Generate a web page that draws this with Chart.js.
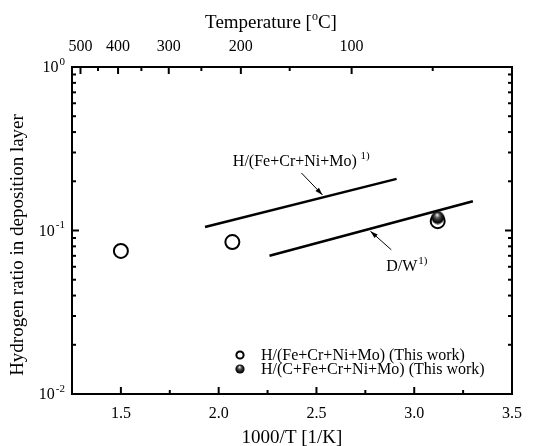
<!DOCTYPE html>
<html>
<head>
<meta charset="utf-8">
<script src="https://cdn.jsdelivr.net/npm/chart.js@4.4.0/dist/chart.umd.min.js"></script>
<style>
  html, body { margin: 0; padding: 0; background: #fff; }
  #wrap { width: 534px; height: 446px; }
</style>
</head>
<body>
<div id="wrap"><canvas id="myChart" width="534" height="446"></canvas></div>
<script>
// bottom axis: 1000/T
const xMajor = [1.5, 2.0, 2.5, 3.0, 3.5];
const xMinor = [1.75, 2.25, 2.75, 3.25];
// top axis: temperature in C
const tempMajor = [500, 400, 300, 200, 100];
const tempMinor = [450, 350, 250, 150, 50];
// y decades
const yDecades = [0.01, 0.1, 1];
const yExp = ['-2', '-1', '0'];

// H/(Fe+Cr+Ni+Mo) (This work)
const openX = [1.50, 2.07, 3.12];
const openY = [0.075, 0.085, 0.114];
// H/(C+Fe+Cr+Ni+Mo) (This work)
const ballX = [3.12];
const ballY = [0.120];
// literature lines 1)
const hLineX = [1.93, 2.91];
const hLineY = [0.105, 0.207];
const dwLineX = [2.26, 3.30];
const dwLineY = [0.070, 0.151];

const FONT = '"Liberation Serif", "Times New Roman", serif';

function pts(xs, ys) { return xs.map((v, i) => ({x: v, y: ys[i]})); }
function toInv(tc) { return 1000 / (tc + 273.15); }

function drawBall(c, cx, cy, r) {
  const g = c.createRadialGradient(cx - r * 0.1, cy - r * 0.45, r * 0.05, cx, cy, r);
  g.addColorStop(0, '#f4f4f4');
  g.addColorStop(0.35, '#555');
  g.addColorStop(0.75, '#111');
  g.addColorStop(1, '#000');
  c.beginPath();
  c.arc(cx, cy, r, 0, Math.PI * 2);
  c.fillStyle = g;
  c.fill();
}

const ballImg = document.createElement('canvas');
ballImg.width = 14; ballImg.height = 14;
drawBall(ballImg.getContext('2d'), 7, 7, 6.5);

function supText(ctx, base, sup, x, y, size, align) {
  ctx.font = size + 'px ' + FONT;
  const wb = ctx.measureText(base).width;
  ctx.font = Math.round(size * 0.68) + 'px ' + FONT;
  const ws = ctx.measureText(sup).width;
  let x0 = x;
  if (align === 'right') x0 = x - wb - ws;
  if (align === 'center') x0 = x - (wb + ws) / 2;
  ctx.textAlign = 'left';
  ctx.font = size + 'px ' + FONT;
  ctx.fillText(base, x0, y);
  ctx.font = Math.round(size * 0.68) + 'px ' + FONT;
  ctx.fillText(sup, x0 + wb + 1, y - size * 0.38);
}

function arrow(ctx, x1, y1, x2, y2) {
  ctx.lineWidth = 1;
  ctx.beginPath(); ctx.moveTo(x1, y1); ctx.lineTo(x2, y2); ctx.stroke();
  const ang = Math.atan2(y2 - y1, x2 - x1), L = 8, w = 0.3;
  ctx.beginPath();
  ctx.moveTo(x2, y2);
  ctx.lineTo(x2 - L * Math.cos(ang - w), y2 - L * Math.sin(ang - w));
  ctx.lineTo(x2 - L * Math.cos(ang + w), y2 - L * Math.sin(ang + w));
  ctx.closePath(); ctx.fill();
}

const deco = {
  id: 'deco',
  afterDraw(chart) {
    const {ctx, chartArea: a, scales: {x, y}} = chart;
    ctx.save();
    ctx.strokeStyle = '#000'; ctx.fillStyle = '#000';
    ctx.lineWidth = 2;
    ctx.strokeRect(a.left, a.top, a.right - a.left, a.bottom - a.top);

    const tk = (px, py, dx, dy) => { ctx.beginPath(); ctx.moveTo(px, py); ctx.lineTo(px + dx, py + dy); ctx.stroke(); };
    // bottom
    xMajor.forEach(v => tk(x.getPixelForValue(v), a.bottom, 0, -7));
    xMinor.forEach(v => tk(x.getPixelForValue(v), a.bottom, 0, -4));
    // top (temperature)
    tempMajor.forEach(t => tk(x.getPixelForValue(toInv(t)), a.top, 0, 7));
    tempMinor.forEach(t => tk(x.getPixelForValue(toInv(t)), a.top, 0, 4));
    // left / right log ticks
    yDecades.forEach(d => {
      const p = y.getPixelForValue(d);
      tk(a.left, p, 7, 0); tk(a.right, p, -7, 0);
      if (d < 1) for (let m = 2; m <= 9; m++) {
        const q = y.getPixelForValue(d * m);
        tk(a.left, q, 4, 0); tk(a.right, q, -4, 0);
      }
    });

    // tick labels
    ctx.textBaseline = 'middle';
    ctx.font = '16px ' + FONT; ctx.textAlign = 'center';
    xMajor.forEach(v => ctx.fillText(v.toFixed(1), x.getPixelForValue(v), a.bottom + 20));
    tempMajor.forEach(t => ctx.fillText(String(t), x.getPixelForValue(toInv(t)), a.top - 20));
    yDecades.forEach((d, i) => supText(ctx, '10', yExp[i], a.left - 8, y.getPixelForValue(d) + 1, 16, 'right'));

    // axis titles
    ctx.font = '19px ' + FONT; ctx.textAlign = 'center';
    ctx.fillText('1000/T [1/K]', (a.left + a.right) / 2, a.bottom + 44);
    ctx.font = '19px ' + FONT;
    const w1 = ctx.measureText('Temperature [').width;
    const w3 = ctx.measureText('C]').width;
    ctx.font = '12px ' + FONT;
    const w2 = ctx.measureText('o').width;
    let tx = 271 - (w1 + w2 + w3) / 2;
    ctx.textAlign = 'left';
    ctx.font = '19px ' + FONT; ctx.fillText('Temperature [', tx, 23);
    ctx.font = '12px ' + FONT; ctx.fillText('o', tx + w1, 17);
    ctx.font = '19px ' + FONT; ctx.fillText('C]', tx + w1 + w2, 23);

    ctx.save();
    ctx.translate(18, 245); ctx.rotate(-Math.PI / 2);
    ctx.textAlign = 'center'; ctx.font = '19px ' + FONT;
    ctx.fillText('Hydrogen ratio in deposition layer', 0, 0);
    ctx.restore();

    // annotations
    supText(ctx, 'H/(Fe+Cr+Ni+Mo)', ' 1)', x.getPixelForValue(2.42), y.getPixelForValue(0.263), 16, 'center');
    arrow(ctx, x.getPixelForValue(2.423), y.getPixelForValue(0.225), x.getPixelForValue(2.531), y.getPixelForValue(0.165));
    supText(ctx, 'D/W', '1)', x.getPixelForValue(2.857), y.getPixelForValue(0.060), 16, 'left');
    arrow(ctx, x.getPixelForValue(2.883), y.getPixelForValue(0.0762), x.getPixelForValue(2.776), y.getPixelForValue(0.099));

    // legend
    ctx.font = '16px ' + FONT; ctx.textAlign = 'left';
    ctx.lineWidth = 2;
    ctx.beginPath(); ctx.arc(240, 355, 3.6, 0, Math.PI * 2); ctx.fillStyle = '#fff'; ctx.fill(); ctx.stroke();
    ctx.fillStyle = '#000';
    ctx.fillText('H/(Fe+Cr+Ni+Mo) (This work)', 261, 356);
    drawBall(ctx, 240, 369, 4.6);
    ctx.fillStyle = '#000';
    ctx.fillText('H/(C+Fe+Cr+Ni+Mo) (This work)', 261, 370);
    ctx.restore();
  }
};

new Chart(document.getElementById('myChart'), {
  type: 'scatter',
  data: {
    datasets: [
      {
        label: 'H/(C+Fe+Cr+Ni+Mo) (This work)',
        data: pts(ballX, ballY),
        pointStyle: ballImg,
        pointRadius: 7,
        order: 0
      },
      {
        label: 'H/(Fe+Cr+Ni+Mo) (This work)',
        data: pts(openX, openY),
        pointStyle: 'circle',
        pointRadius: 7,
        borderWidth: 2,
        borderColor: '#000',
        backgroundColor: '#fff',
        order: 1
      },
      {
        label: 'H/(Fe+Cr+Ni+Mo) 1)',
        data: pts(hLineX, hLineY),
        showLine: true,
        pointRadius: 0,
        borderWidth: 2.5,
        borderColor: '#000',
        order: 2
      },
      {
        label: 'D/W 1)',
        data: pts(dwLineX, dwLineY),
        showLine: true,
        pointRadius: 0,
        borderWidth: 2.5,
        borderColor: '#000',
        order: 3
      }
    ]
  },
  options: {
    responsive: false,
    animation: false,
    devicePixelRatio: 1,
    layout: { padding: { left: 72, right: 22, top: 67, bottom: 52 } },
    plugins: { legend: { display: false }, tooltip: { enabled: false } },
    scales: {
      x: { type: 'linear', min: 1.25, max: 3.5, display: false },
      y: { type: 'logarithmic', min: 0.01, max: 1, display: false }
    }
  },
  plugins: [deco]
});
</script>
</body>
</html>
